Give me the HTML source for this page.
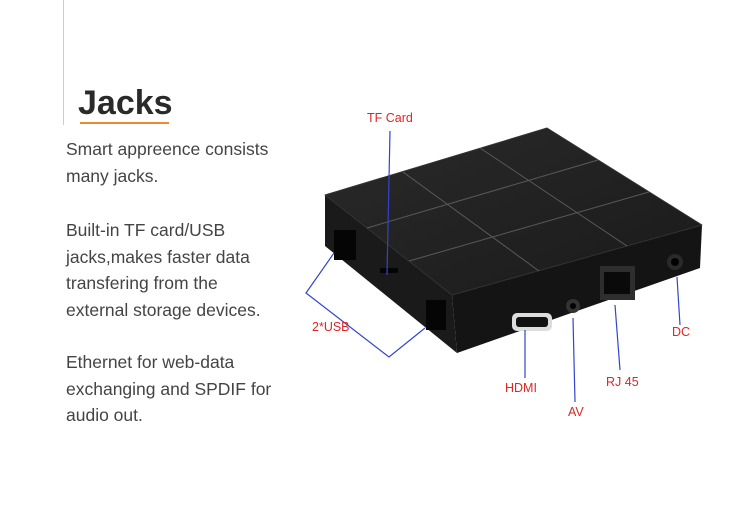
<!DOCTYPE html>
<html><head><style>
body{margin:0;width:750px;height:512px;background:#fff;overflow:hidden;position:relative;font-family:"Liberation Sans",sans-serif}
.t{position:absolute;left:66px;color:#444;font-size:17.5px;line-height:26.5px;letter-spacing:0}
</style></head><body>
<div style="position:absolute;left:63px;top:0;width:1px;height:125px;background:#ccc"></div>
<div style="position:absolute;left:78px;top:84px;font-size:34px;font-weight:bold;color:#2a2a2a">Jacks</div>
<div style="position:absolute;left:80px;top:122px;width:89px;height:2px;background:#f08a30"></div>
<div class="t" style="top:136px">Smart appreence consists<br>many jacks.</div>
<div class="t" style="top:217px">Built-in TF card/USB<br>jacks,makes faster data<br>transfering from the<br>external storage devices.</div>
<div class="t" style="top:349px">Ethernet for web-data<br>exchanging and SPDIF for<br>audio out.</div>
<svg width="750" height="512" style="position:absolute;left:0;top:0">
<defs><linearGradient id="g" x1="0" y1="0" x2="1" y2="1"><stop offset="0" stop-color="#2a2a2a"/><stop offset="1" stop-color="#1a1a1a"/></linearGradient></defs>
<polygon points="325,195 452,295 457,353 325,246" fill="#1a1a1a"/>
<polygon points="452,295 702,225 700,268 457,353" fill="#141414"/>
<polygon points="325,195 547,128 702,225 452,295" fill="url(#g)" stroke="#333" stroke-linejoin="round"/>
<g stroke="#5a5a5a" stroke-width="1" fill="none">
<line x1="367" y1="228" x2="598" y2="160"/><line x1="409" y1="261" x2="649" y2="192"/>
<line x1="403" y1="172" x2="539" y2="271"/><line x1="480" y1="148" x2="627" y2="246"/>
</g>
<rect x="334" y="230" width="22" height="30" fill="#050505"/>
<rect x="426" y="300" width="20" height="30" fill="#050505"/>
<rect x="380" y="268" width="18" height="5" fill="#050505"/>
<rect x="512" y="313" width="40" height="18" rx="5" fill="#ddd"/><rect x="516" y="317" width="32" height="10" rx="3" fill="#111"/>
<circle cx="573" cy="306" r="7" fill="#333"/><circle cx="573" cy="306" r="3" fill="#000"/>
<rect x="600" y="266" width="35" height="34" fill="#2e2e2e"/><rect x="604" y="272" width="26" height="22" fill="#0a0a0a"/>
<circle cx="675" cy="262" r="8" fill="#2a2a2a"/><circle cx="675" cy="262" r="4" fill="#000"/>
<g stroke="#3344cc" stroke-width="1.2" fill="none">
<line x1="390" y1="131" x2="387" y2="275"/>
<polyline points="334,253 306,293 389,357 425,328"/>
<line x1="525" y1="330" x2="525" y2="378"/>
<line x1="573" y1="318" x2="575" y2="402"/>
<line x1="615" y1="305" x2="620" y2="370"/>
<line x1="677" y1="277" x2="680" y2="325"/>
</g>
<g fill="#e02525" font-size="12.5" font-family="Liberation Sans,sans-serif">
<text x="367" y="122">TF Card</text><text x="312" y="331">2*USB</text>
<text x="505" y="392">HDMI</text><text x="568" y="416">AV</text>
<text x="606" y="386">RJ 45</text><text x="672" y="336">DC</text>
</g>
</svg>
</body></html>
